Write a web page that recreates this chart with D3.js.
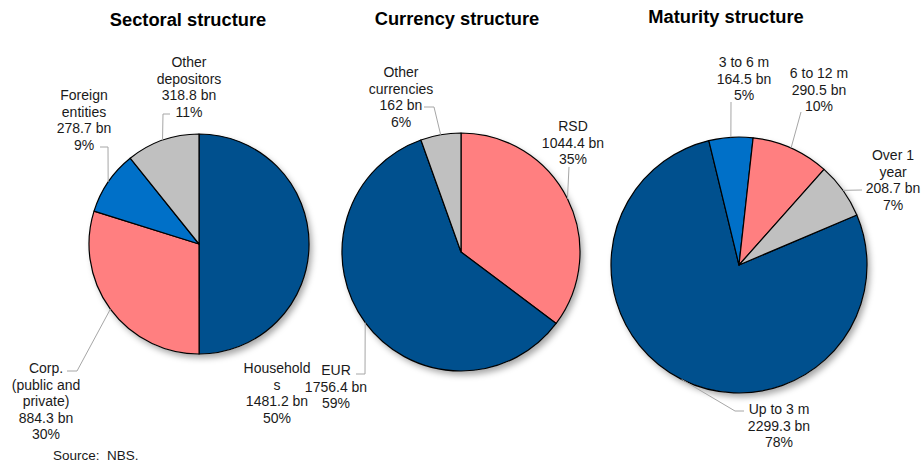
<!DOCTYPE html>
<html><head><meta charset="utf-8">
<script src="https://cdn.jsdelivr.net/npm/d3@7"></script>
<style>
html,body{margin:0;padding:0;background:#fff;}
svg{display:block;font-family:"Liberation Sans",Arial,sans-serif;}
</style></head>
<body>
<svg id="chart" width="922" height="464"></svg>
<script>
// ---- Data ----
const sectoralCategories = ["Households", "Corp. (public and private)", "Foreign entities", "Other depositors"];
const sectoralValues = [1481.2, 884.3, 278.7, 318.8];
const sectoralPercents = ["50%", "30%", "9%", "11%"];
const sectoralLabelLines = [["Household", "s"], ["Corp.", "(public and", "private)"], ["Foreign", "entities"], ["Other", "depositors"]];

const currencyCategories = ["RSD", "EUR", "Other currencies"];
const currencyValues = [1044.4, 1756.4, 162];
const currencyPercents = ["35%", "59%", "6%"];
const currencyLabelLines = [["RSD"], ["EUR"], ["Other", "currencies"]];

const maturityCategories = ["Up to 3 m", "3 to 6 m", "6 to 12 m", "Over 1 year"];
const maturityValues = [2299.3, 164.5, 290.5, 208.7];
const maturityPercents = ["78%", "5%", "10%", "7%"];
const maturityLabelLines = [["Up to 3 m"], ["3 to 6 m"], ["6 to 12 m"], ["Over 1", "year"]];

const titles = ["Sectoral structure", "Currency structure", "Maturity structure"];
const sourceText = "Source:  NBS.";

// ---- Layout / styles ----
const C = {dark: "#00508E", pink: "#FF7F80", gray: "#C0C0C0", blue: "#0070C8"};
const pies = [
  { title: titles[0], titleX: 188, titleY: 26, cx: 199, cy: 244, r: 110, start: 0,
    cats: sectoralCategories, vals: sectoralValues, pcts: sectoralPercents, lines: sectoralLabelLines,
    colors: [C.dark, C.pink, C.blue, C.gray],
    labels: [
      {x: 277, y: 368, leader: null},
      {x: 46, y: 368, leader: [[77, 371], [67, 371]]},
      {x: 84, y: 95, leader: [[108, 147], [100, 147]]},
      {x: 189, y: 62, leader: [[163, 114], [170, 114]]}
    ]},
  { title: titles[1], titleX: 457, titleY: 25, cx: 461, cy: 252, r: 119, start: 0,
    cats: currencyCategories, vals: currencyValues, pcts: currencyPercents, lines: currencyLabelLines,
    colors: [C.pink, C.dark, C.gray],
    labels: [
      {x: 573, y: 126, leader: [[569, 167]]},
      {x: 336, y: 370, leader: [[365, 374], [356, 374]]},
      {x: 401, y: 72, leader: [[434, 107], [424, 107]]}
    ]},
  { title: titles[2], titleX: 726, titleY: 23, cx: 739, cy: 265, r: 128, start: 67 * Math.PI / 180,
    cats: maturityCategories, vals: maturityValues, pcts: maturityPercents, lines: maturityLabelLines,
    colors: [C.dark, C.blue, C.pink, C.gray],
    labels: [
      {x: 779, y: 409, leader: [[735, 411], [744, 411]]},
      {x: 744, y: 62, leader: [[731, 102]]},
      {x: 819, y: 73, leader: [[801, 112]]},
      {x: 893, y: 155, leader: [[862, 190]]}
    ]}
];

const svg = d3.select("#chart");
const defs = svg.append("defs");
const f = defs.append("filter").attr("id", "shadow").attr("x", "-20%").attr("y", "-20%").attr("width", "140%").attr("height", "140%");
f.append("feDropShadow").attr("dx", 3).attr("dy", 4).attr("stdDeviation", 3)
  .attr("flood-color", "#000").attr("flood-opacity", 0.35);

const lineH = 16.5;

pies.forEach(p => {
  svg.append("text").attr("x", p.titleX).attr("y", p.titleY)
    .attr("text-anchor", "middle").attr("font-weight", "bold").attr("font-size", 18.3)
    .attr("fill", "#000").text(p.title);

  const pie = d3.pie().sort(null).value(d => d)
    .startAngle(p.start).endAngle(p.start + 2 * Math.PI);
  const arcs = pie(p.vals);
  const arc = d3.arc().innerRadius(0).outerRadius(p.r);
  const edge = d3.arc().innerRadius(p.r).outerRadius(p.r);

  const g = svg.append("g").attr("transform", `translate(${p.cx},${p.cy})`);
  g.append("circle").attr("r", p.r).attr("fill", "#fff").attr("filter", "url(#shadow)");
  g.selectAll("path.slice").data(arcs).join("path")
    .attr("class", "slice")
    .attr("d", arc)
    .attr("fill", (d, i) => p.colors[i])
    .attr("stroke", "#000").attr("stroke-width", 1.2).attr("stroke-linejoin", "round");

  arcs.forEach((a, i) => {
    const lab = p.labels[i];
    if (lab.leader) {
      const c = edge.centroid(a);
      const pts = [[p.cx + c[0], p.cy + c[1]]].concat(lab.leader);
      svg.append("path").attr("d", d3.line()(pts))
        .attr("fill", "none").attr("stroke", "#A6A6A6").attr("stroke-width", 1);
    }
    const allLines = p.lines[i].concat([String(p.vals[i]) + " bn", p.pcts[i]]);
    const t = svg.append("text").attr("text-anchor", "middle").attr("font-size", 14)
      .attr("fill", "#1a1a1a");
    allLines.forEach((s, k) => {
      t.append("tspan").attr("x", lab.x).attr("y", lab.y + k * lineH)
        .attr("dominant-baseline", "central").text(s);
    });
  });
});

svg.append("text").attr("x", 53).attr("y", 455).attr("dominant-baseline", "central")
  .attr("font-size", 13.5).attr("fill", "#1a1a1a")
  .style("white-space", "pre").text(sourceText);
</script>
</body></html>
